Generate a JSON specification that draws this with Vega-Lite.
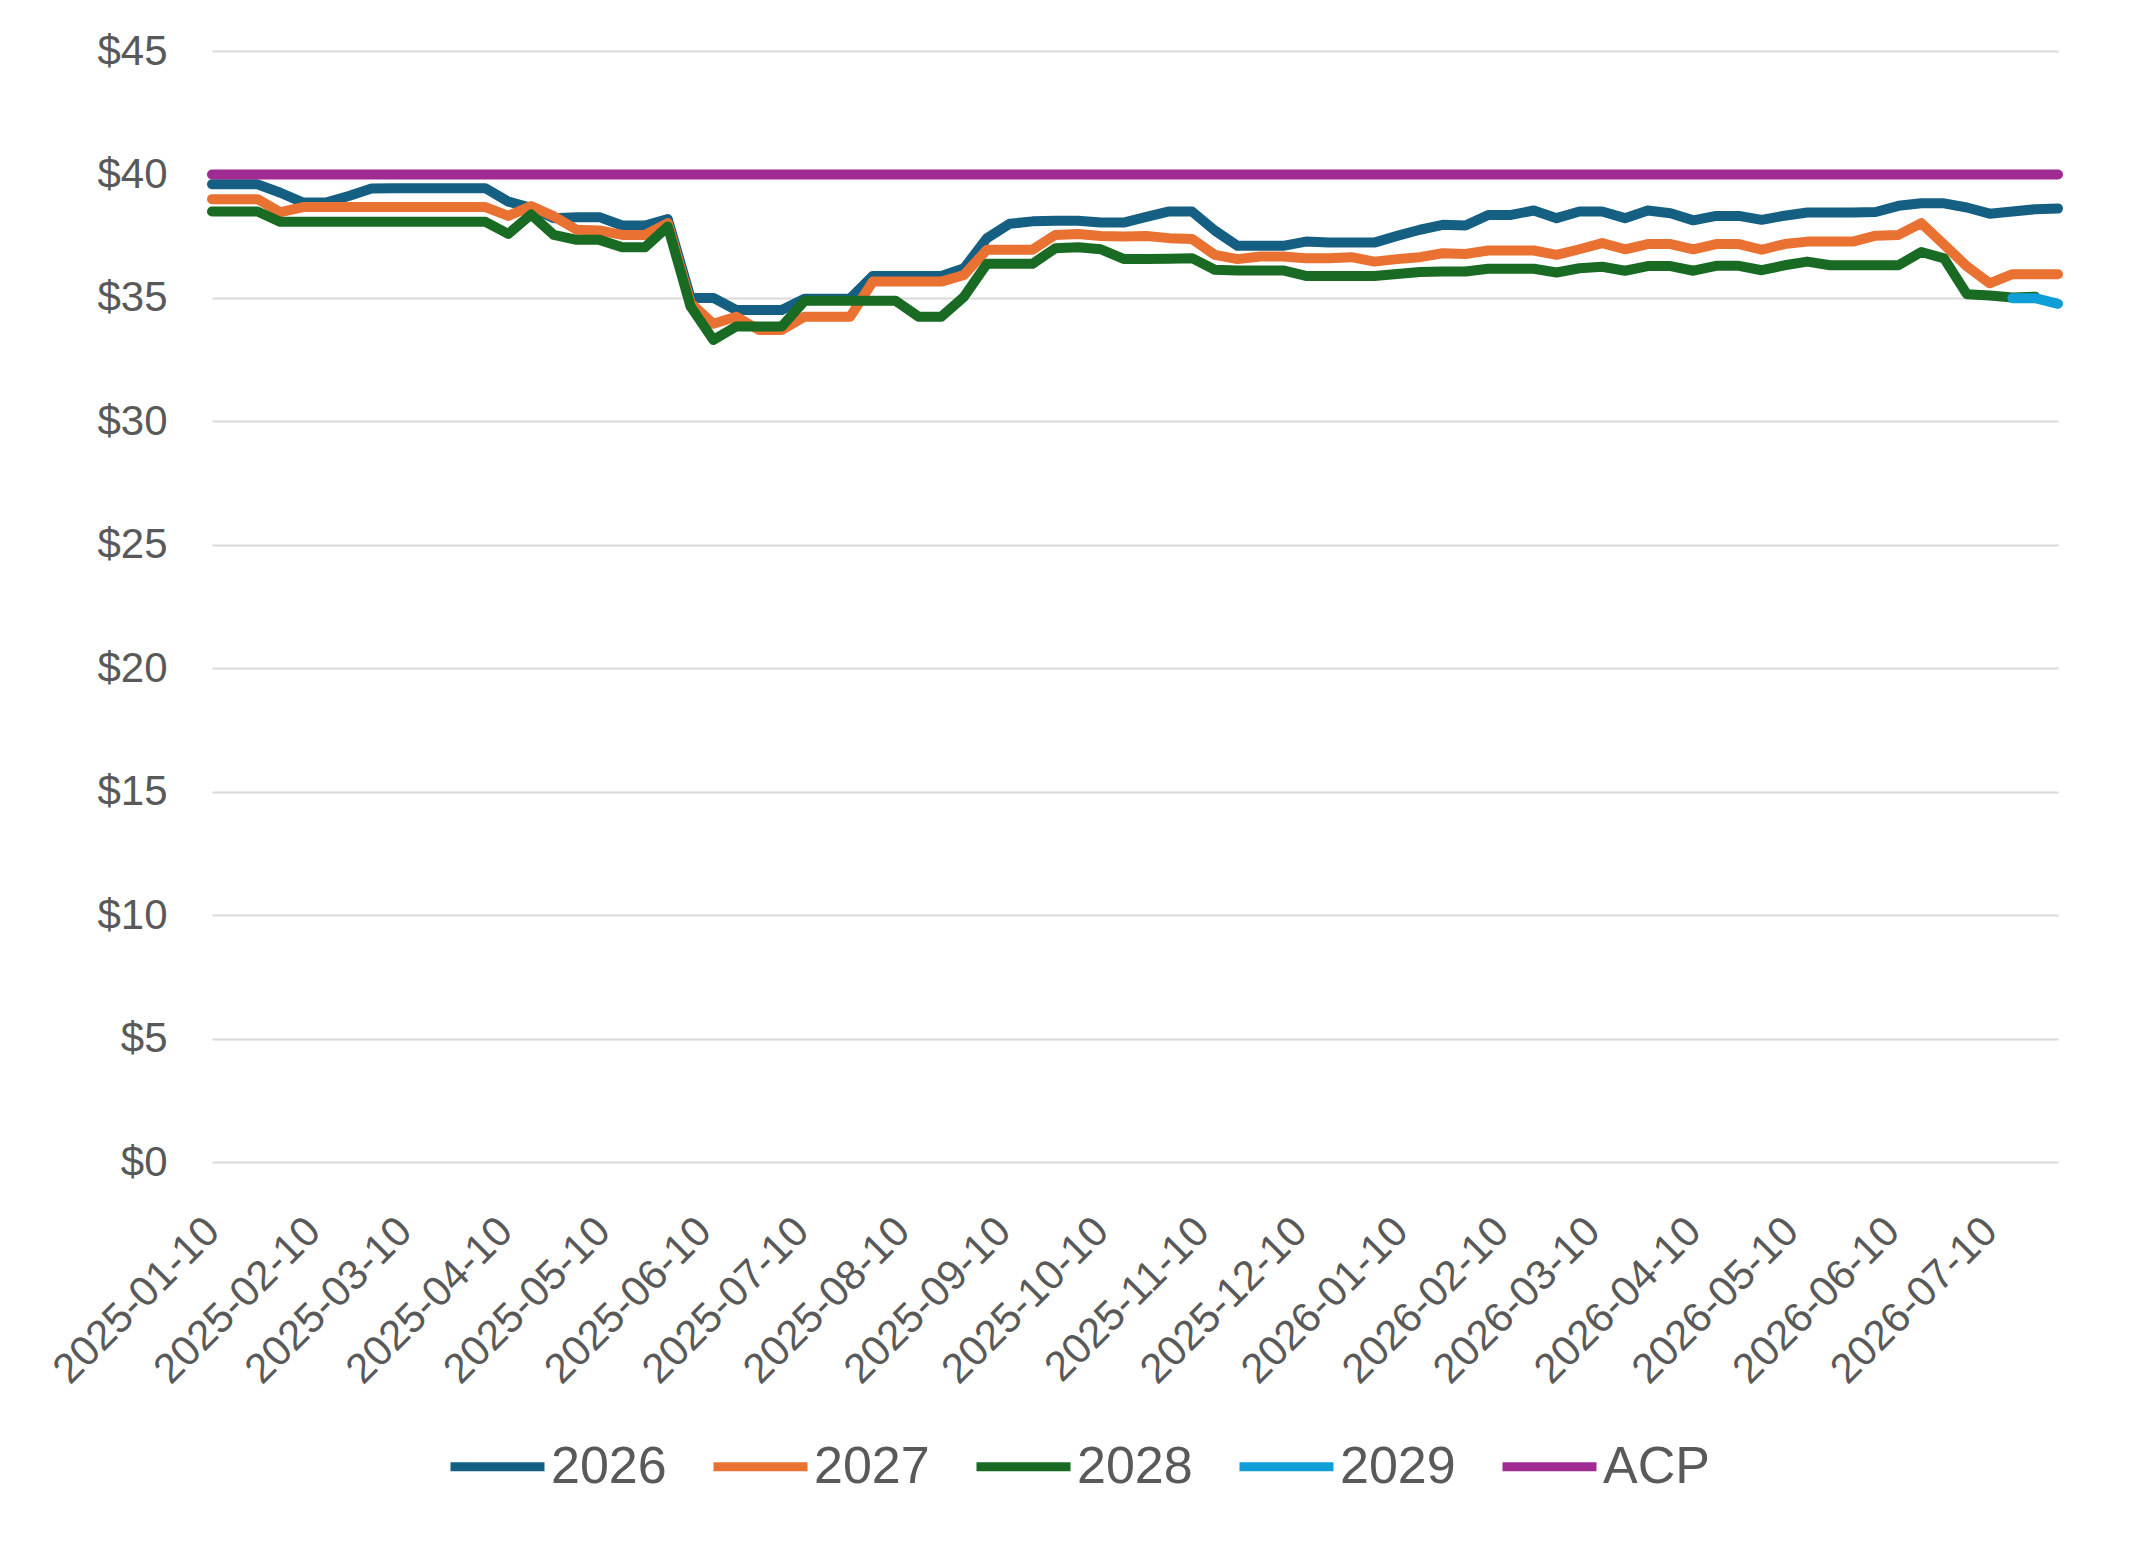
{
  "$schema": "https://vega.github.io/schema/vega-lite/v6.json",
  "width": 1846,
  "height": 1111,
  "autosize": {"type": "none"},
  "padding": {"left": 212, "top": 51, "right": 90, "bottom": 383},
  "background": "white",
  "data": {
    "values": [
      {"date": "2025-01-10", "2026": 39.6, "2027": 39.0, "2028": 38.5, "2029": null, "ACP": 40},
      {"date": "2025-01-17", "2026": 39.6, "2027": 39.0, "2028": 38.5, "2029": null, "ACP": 40},
      {"date": "2025-01-24", "2026": 39.6, "2027": 39.0, "2028": 38.5, "2029": null, "ACP": 40},
      {"date": "2025-01-31", "2026": 39.26, "2027": 38.47, "2028": 38.08, "2029": null, "ACP": 40},
      {"date": "2025-02-07", "2026": 38.86, "2027": 38.68, "2028": 38.08, "2029": null, "ACP": 40},
      {"date": "2025-02-14", "2026": 38.86, "2027": 38.68, "2028": 38.08, "2029": null, "ACP": 40},
      {"date": "2025-02-21", "2026": 39.13, "2027": 38.68, "2028": 38.08, "2029": null, "ACP": 40},
      {"date": "2025-02-28", "2026": 39.43, "2027": 38.68, "2028": 38.08, "2029": null, "ACP": 40},
      {"date": "2025-03-07", "2026": 39.44, "2027": 38.68, "2028": 38.08, "2029": null, "ACP": 40},
      {"date": "2025-03-14", "2026": 39.44, "2027": 38.68, "2028": 38.08, "2029": null, "ACP": 40},
      {"date": "2025-03-21", "2026": 39.44, "2027": 38.68, "2028": 38.08, "2029": null, "ACP": 40},
      {"date": "2025-03-28", "2026": 39.44, "2027": 38.68, "2028": 38.08, "2029": null, "ACP": 40},
      {"date": "2025-04-04", "2026": 39.44, "2027": 38.68, "2028": 38.08, "2029": null, "ACP": 40},
      {"date": "2025-04-11", "2026": 38.9, "2027": 38.32, "2028": 37.59, "2029": null, "ACP": 40},
      {"date": "2025-04-18", "2026": 38.65, "2027": 38.72, "2028": 38.38, "2029": null, "ACP": 40},
      {"date": "2025-04-25", "2026": 38.23, "2027": 38.3, "2028": 37.55, "2029": null, "ACP": 40},
      {"date": "2025-05-02", "2026": 38.27, "2027": 37.76, "2028": 37.35, "2029": null, "ACP": 40},
      {"date": "2025-05-09", "2026": 38.27, "2027": 37.73, "2028": 37.35, "2029": null, "ACP": 40},
      {"date": "2025-05-16", "2026": 37.93, "2027": 37.55, "2028": 37.05, "2029": null, "ACP": 40},
      {"date": "2025-05-23", "2026": 37.93, "2027": 37.55, "2028": 37.05, "2029": null, "ACP": 40},
      {"date": "2025-05-30", "2026": 38.19, "2027": 38.03, "2028": 37.89, "2029": null, "ACP": 40},
      {"date": "2025-06-06", "2026": 35.0, "2027": 34.8, "2028": 34.65, "2029": null, "ACP": 40},
      {"date": "2025-06-13", "2026": 35.0, "2027": 33.95, "2028": 33.3, "2029": null, "ACP": 40},
      {"date": "2025-06-20", "2026": 34.51, "2027": 34.24, "2028": 33.84, "2029": null, "ACP": 40},
      {"date": "2025-06-27", "2026": 34.51, "2027": 33.7, "2028": 33.84, "2029": null, "ACP": 40},
      {"date": "2025-07-04", "2026": 34.51, "2027": 33.7, "2028": 33.84, "2029": null, "ACP": 40},
      {"date": "2025-07-11", "2026": 34.97, "2027": 34.24, "2028": 34.88, "2029": null, "ACP": 40},
      {"date": "2025-07-18", "2026": 34.97, "2027": 34.24, "2028": 34.88, "2029": null, "ACP": 40},
      {"date": "2025-07-25", "2026": 34.97, "2027": 34.24, "2028": 34.88, "2029": null, "ACP": 40},
      {"date": "2025-08-01", "2026": 35.89, "2027": 35.66, "2028": 34.88, "2029": null, "ACP": 40},
      {"date": "2025-08-08", "2026": 35.89, "2027": 35.66, "2028": 34.88, "2029": null, "ACP": 40},
      {"date": "2025-08-15", "2026": 35.89, "2027": 35.66, "2028": 34.24, "2029": null, "ACP": 40},
      {"date": "2025-08-22", "2026": 35.89, "2027": 35.66, "2028": 34.24, "2029": null, "ACP": 40},
      {"date": "2025-08-29", "2026": 36.2, "2027": 35.93, "2028": 35.05, "2029": null, "ACP": 40},
      {"date": "2025-09-05", "2026": 37.42, "2027": 36.95, "2028": 36.38, "2029": null, "ACP": 40},
      {"date": "2025-09-12", "2026": 38.0, "2027": 36.95, "2028": 36.38, "2029": null, "ACP": 40},
      {"date": "2025-09-19", "2026": 38.1, "2027": 36.95, "2028": 36.38, "2029": null, "ACP": 40},
      {"date": "2025-09-26", "2026": 38.12, "2027": 37.55, "2028": 37.01, "2029": null, "ACP": 40},
      {"date": "2025-10-03", "2026": 38.12, "2027": 37.59, "2028": 37.05, "2029": null, "ACP": 40},
      {"date": "2025-10-10", "2026": 38.05, "2027": 37.51, "2028": 36.97, "2029": null, "ACP": 40},
      {"date": "2025-10-17", "2026": 38.05, "2027": 37.49, "2028": 36.58, "2029": null, "ACP": 40},
      {"date": "2025-10-24", "2026": 38.28, "2027": 37.51, "2028": 36.58, "2029": null, "ACP": 40},
      {"date": "2025-10-31", "2026": 38.5, "2027": 37.42, "2028": 36.59, "2029": null, "ACP": 40},
      {"date": "2025-11-07", "2026": 38.5, "2027": 37.39, "2028": 36.61, "2029": null, "ACP": 40},
      {"date": "2025-11-14", "2026": 37.73, "2027": 36.74, "2028": 36.14, "2029": null, "ACP": 40},
      {"date": "2025-11-21", "2026": 37.11, "2027": 36.57, "2028": 36.11, "2029": null, "ACP": 40},
      {"date": "2025-11-28", "2026": 37.11, "2027": 36.68, "2028": 36.11, "2029": null, "ACP": 40},
      {"date": "2025-12-05", "2026": 37.11, "2027": 36.68, "2028": 36.11, "2029": null, "ACP": 40},
      {"date": "2025-12-12", "2026": 37.28, "2027": 36.61, "2028": 35.89, "2029": null, "ACP": 40},
      {"date": "2025-12-19", "2026": 37.24, "2027": 36.61, "2028": 35.89, "2029": null, "ACP": 40},
      {"date": "2025-12-26", "2026": 37.24, "2027": 36.65, "2028": 35.89, "2029": null, "ACP": 40},
      {"date": "2026-01-02", "2026": 37.24, "2027": 36.47, "2028": 35.89, "2029": null, "ACP": 40},
      {"date": "2026-01-09", "2026": 37.51, "2027": 36.57, "2028": 35.97, "2029": null, "ACP": 40},
      {"date": "2026-01-16", "2026": 37.76, "2027": 36.65, "2028": 36.05, "2029": null, "ACP": 40},
      {"date": "2026-01-23", "2026": 37.96, "2027": 36.81, "2028": 36.07, "2029": null, "ACP": 40},
      {"date": "2026-01-30", "2026": 37.93, "2027": 36.78, "2028": 36.07, "2029": null, "ACP": 40},
      {"date": "2026-02-06", "2026": 38.36, "2027": 36.92, "2028": 36.18, "2029": null, "ACP": 40},
      {"date": "2026-02-13", "2026": 38.36, "2027": 36.92, "2028": 36.18, "2029": null, "ACP": 40},
      {"date": "2026-02-20", "2026": 38.54, "2027": 36.92, "2028": 36.18, "2029": null, "ACP": 40},
      {"date": "2026-02-27", "2026": 38.23, "2027": 36.74, "2028": 36.03, "2029": null, "ACP": 40},
      {"date": "2026-03-06", "2026": 38.5, "2027": 36.97, "2028": 36.2, "2029": null, "ACP": 40},
      {"date": "2026-03-13", "2026": 38.5, "2027": 37.22, "2028": 36.26, "2029": null, "ACP": 40},
      {"date": "2026-03-20", "2026": 38.23, "2027": 36.97, "2028": 36.1, "2029": null, "ACP": 40},
      {"date": "2026-03-27", "2026": 38.54, "2027": 37.18, "2028": 36.29, "2029": null, "ACP": 40},
      {"date": "2026-04-03", "2026": 38.43, "2027": 37.18, "2028": 36.29, "2029": null, "ACP": 40},
      {"date": "2026-04-10", "2026": 38.14, "2027": 36.97, "2028": 36.1, "2029": null, "ACP": 40},
      {"date": "2026-04-17", "2026": 38.32, "2027": 37.18, "2028": 36.3, "2029": null, "ACP": 40},
      {"date": "2026-04-24", "2026": 38.32, "2027": 37.18, "2028": 36.3, "2029": null, "ACP": 40},
      {"date": "2026-05-01", "2026": 38.16, "2027": 36.95, "2028": 36.12, "2029": null, "ACP": 40},
      {"date": "2026-05-08", "2026": 38.33, "2027": 37.18, "2028": 36.32, "2029": null, "ACP": 40},
      {"date": "2026-05-15", "2026": 38.46, "2027": 37.28, "2028": 36.47, "2029": null, "ACP": 40},
      {"date": "2026-05-22", "2026": 38.46, "2027": 37.28, "2028": 36.32, "2029": null, "ACP": 40},
      {"date": "2026-05-29", "2026": 38.46, "2027": 37.28, "2028": 36.32, "2029": null, "ACP": 40},
      {"date": "2026-06-05", "2026": 38.48, "2027": 37.52, "2028": 36.32, "2029": null, "ACP": 40},
      {"date": "2026-06-12", "2026": 38.73, "2027": 37.55, "2028": 36.32, "2029": null, "ACP": 40},
      {"date": "2026-06-19", "2026": 38.83, "2027": 38.03, "2028": 36.86, "2029": null, "ACP": 40},
      {"date": "2026-06-26", "2026": 38.83, "2027": 37.16, "2028": 36.6, "2029": null, "ACP": 40},
      {"date": "2026-07-03", "2026": 38.66, "2027": 36.28, "2028": 35.15, "2029": null, "ACP": 40},
      {"date": "2026-07-10", "2026": 38.41, "2027": 35.59, "2028": 35.1, "2029": null, "ACP": 40},
      {"date": "2026-07-17", "2026": 38.5, "2027": 35.96, "2028": 35.02, "2029": 34.99, "ACP": 40},
      {"date": "2026-07-24", "2026": 38.59, "2027": 35.96, "2028": 35.05, "2029": 34.99, "ACP": 40},
      {"date": "2026-07-31", "2026": 38.62, "2027": 35.96, "2028": null, "2029": 34.76, "ACP": 40}
    ]
  },
  "transform": [
    {"fold": ["2026", "2027", "2028", "2029", "ACP"], "as": ["series", "price"]},
    {"filter": "isValid(datum.price)"}
  ],
  "mark": {
    "type": "line",
    "strokeWidth": 10,
    "strokeCap": "round",
    "strokeJoin": "round"
  },
  "encoding": {
    "x": {
      "field": "date",
      "type": "temporal",
      "title": null,
      "scale": {
        "type": "utc",
        "domain": [
          {"year": 2025, "month": 1, "date": 10, "utc": true},
          {"year": 2026, "month": 7, "date": 31, "utc": true}
        ]
      },
      "axis": {
        "values": [
          {"year": 2025, "month": 1, "date": 10, "utc": true},
          {"year": 2025, "month": 2, "date": 10, "utc": true},
          {"year": 2025, "month": 3, "date": 10, "utc": true},
          {"year": 2025, "month": 4, "date": 10, "utc": true},
          {"year": 2025, "month": 5, "date": 10, "utc": true},
          {"year": 2025, "month": 6, "date": 10, "utc": true},
          {"year": 2025, "month": 7, "date": 10, "utc": true},
          {"year": 2025, "month": 8, "date": 10, "utc": true},
          {"year": 2025, "month": 9, "date": 10, "utc": true},
          {"year": 2025, "month": 10, "date": 10, "utc": true},
          {"year": 2025, "month": 11, "date": 10, "utc": true},
          {"year": 2025, "month": 12, "date": 10, "utc": true},
          {"year": 2026, "month": 1, "date": 10, "utc": true},
          {"year": 2026, "month": 2, "date": 10, "utc": true},
          {"year": 2026, "month": 3, "date": 10, "utc": true},
          {"year": 2026, "month": 4, "date": 10, "utc": true},
          {"year": 2026, "month": 5, "date": 10, "utc": true},
          {"year": 2026, "month": 6, "date": 10, "utc": true},
          {"year": 2026, "month": 7, "date": 10, "utc": true}
        ],
        "labelExpr": "utcFormat(datum.value, '%Y-%m-%d')",
        "labelAngle": -45,
        "labelPadding": 48,
        "labelOffset": -14,
        "labelFontSize": 42,
        "labelLimit": 0,
        "labelColor": "#595959",
        "labelFont": "Liberation Sans",
        "labelOverlap": false,
        "labelBound": false,
        "labelFlush": false,
        "ticks": false,
        "domain": false,
        "grid": false
      }
    },
    "y": {
      "field": "price",
      "type": "quantitative",
      "title": null,
      "scale": {"domain": [0, 45], "nice": false, "zero": true},
      "axis": {
        "values": [0, 5, 10, 15, 20, 25, 30, 35, 40, 45],
        "format": "$.0f",
        "labelPadding": 45,
        "labelFontSize": 42,
        "labelColor": "#595959",
        "labelFont": "Liberation Sans",
        "ticks": false,
        "domain": false,
        "grid": true,
        "gridColor": "#D9D9D9",
        "gridWidth": 2
      }
    },
    "color": {
      "field": "series",
      "type": "nominal",
      "scale": {
        "domain": ["2026", "2027", "2028", "2029", "ACP"],
        "range": ["#156082", "#E97132", "#196B24", "#0F9ED5", "#A02B93"]
      },
      "legend": {
        "title": null,
        "orient": "none",
        "direction": "horizontal",
        "legendX": 234,
        "legendY": 1364,
        "padding": 0,
        "symbolType": "stroke",
        "symbolStrokeWidth": 9,
        "symbolSize": 8836,
        "labelFontSize": 52,
        "labelColor": "#595959",
        "labelFont": "Liberation Sans",
        "labelOffset": 2,
        "columnPadding": 28
      }
    }
  },
  "config": {
    "view": {"stroke": null}
  }
}
